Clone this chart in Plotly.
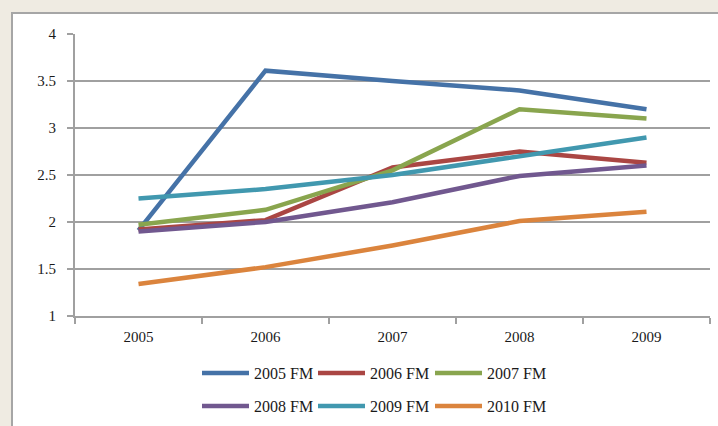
import plotly.graph_objects as go

years = ["2005", "2006", "2007", "2008", "2009"]
series_names = ["2005 FM", "2006 FM", "2007 FM", "2008 FM", "2009 FM", "2010 FM"]
fm2005 = [1.91, 3.61, 3.50, 3.40, 3.20]
fm2006 = [1.92, 2.02, 2.58, 2.75, 2.63]
fm2007 = [1.97, 2.13, 2.55, 3.20, 3.10]
fm2008 = [1.90, 2.00, 2.21, 2.49, 2.60]
fm2009 = [2.25, 2.35, 2.50, 2.70, 2.90]
fm2010 = [1.34, 1.52, 1.75, 2.01, 2.11]
series_values = [fm2005, fm2006, fm2007, fm2008, fm2009, fm2010]
colors = ["#4572A7", "#AA4643", "#89A54E", "#71588F", "#4198AF", "#DB843D"]

FONT = "'Liberation Serif', 'Times New Roman', 'DejaVu Serif', serif"

# plot area in pixels: x 75..710, y 34..316
L, R, T, B = 75, 8, 34, 110
W, H = 718, 426
pw, ph = W - L - R, H - T - B

def px(x):
    return (x - L) / pw

def py(y):
    return (H - B - y) / ph

legend_cols = [197, 313, 430]
legend_rows = [373, 406]

fig = go.Figure()
legends = {}
for i, (name, vals, col) in enumerate(zip(series_names, series_values, colors)):
    key = "legend" if i == 0 else f"legend{i + 1}"
    fig.add_trace(go.Scatter(
        x=years, y=vals, mode="lines", name=name,
        line=dict(color=col, width=4.5),
        legend=key,
    ))
    legends[key] = dict(
        orientation="h", xanchor="left", yanchor="middle",
        x=px(legend_cols[i % 3]), y=py(legend_rows[i // 3]),
        font=dict(family=FONT, size=16, color="#1a1a1a"),
        itemwidth=47, bgcolor="rgba(0,0,0,0)",
    )

fig.add_shape(type="rect", xref="paper", yref="paper",
              x0=px(12), x1=px(760), y0=py(470), y1=py(13),
              fillcolor="white", line=dict(color="#A6A6A6", width=2), layer="below")

fig.update_layout(
    width=W, height=H,
    margin=dict(l=L, r=R, t=T, b=B, autoexpand=False),
    paper_bgcolor="#EFEBE2",
    plot_bgcolor="white",
    font=dict(family=FONT, size=15, color="#1a1a1a"),
    showlegend=True,
    xaxis=dict(type="category", range=[-0.5, 4.5], showgrid=False,
               showline=True, linecolor="#A0A0A0", linewidth=2,
               ticks="outside", ticklen=6, tickcolor="#A0A0A0", tickwidth=2,
               ticklabelstandoff=6,
               tickson="boundaries", tickfont=dict(family=FONT, size=15, color="#1a1a1a")),
    yaxis=dict(range=[1, 4], dtick=0.5, tick0=1, showgrid=True,
               gridcolor="#A0A0A0", gridwidth=2,
               showline=True, linecolor="#A0A0A0", linewidth=2,
               ticks="outside", ticklen=6, tickcolor="#A0A0A0", tickwidth=2,
               ticklabelstandoff=8,
               zeroline=False, tickfont=dict(family=FONT, size=15, color="#1a1a1a")),
    **legends,
)

fig.write_html("out.html")
